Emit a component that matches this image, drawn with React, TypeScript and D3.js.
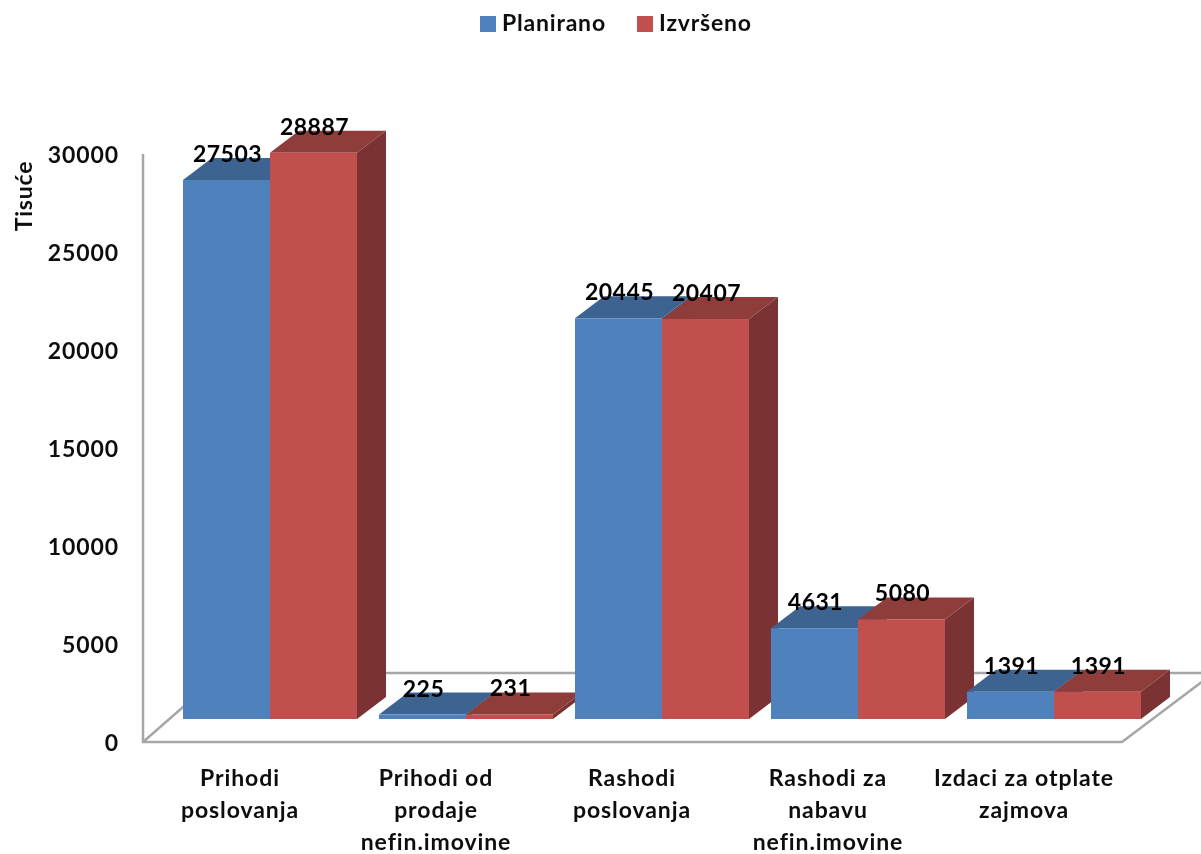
import React from "react";
import * as d3 from "d3";

const categories = [
  ["Prihodi", "poslovanja"],
  ["Prihodi od", "prodaje", "nefin.imovine"],
  ["Rashodi", "poslovanja"],
  ["Rashodi za", "nabavu", "nefin.imovine"],
  ["Izdaci za otplate", "zajmova"],
];
const planirano = [27503, 225, 20445, 4631, 1391];
const izvrseno = [28887, 231, 20407, 5080, 1391];
const seriesNames = ["Planirano", "Izvršeno"];
const yTicks = [0, 5000, 10000, 15000, 20000, 25000, 30000];

const COLORS = [
  { front: "#4f81bd", top: "#3e6390", side: "#345478" },
  { front: "#c0504d", top: "#8f3c3a", side: "#7a3230" },
];
const FONT = "Lato, Carlito, 'Open Sans', sans-serif";
const DX = 29;
const DY = 22;
const BASE_OFFSET = 23;

export default function App() {
  const width = 1201;
  const height = 854;
  const y = d3.scaleLinear().domain([0, 30000]).range([742, 154]);
  const x0 = d3.scaleBand<number>().domain(d3.range(5)).range([172, 1152]).paddingInner(22 / 196).paddingOuter(11 / 196);
  const x1 = d3.scaleBand<number>().domain([0, 1]).range([0, x0.bandwidth()]);
  const series = [planirano, izvrseno];

  return (
    <svg
      width={width}
      height={height}
      viewBox={`0 0 ${width} ${height}`}
      style={{ position: "absolute", left: 0, top: 0, background: "#fff" }}
      fontFamily={FONT}
    >
      <defs>
        <filter id="soft" x="-5%" y="-5%" width="110%" height="110%">
          <feGaussianBlur stdDeviation="0.55" />
        </filter>
      </defs>
      <g filter="url(#soft)">
        {/* floor and walls */}
        <g fill="none" stroke="#a6a6a6" strokeWidth={2.5}>
          <path d={`M143,${y(30000)}V${y(0)}H1122L1203,681`} />
          <path d={`M143,${y(0)}L222,673H1203`} />
        </g>

        {/* legend */}
        {seriesNames.map((name, i) => {
          const lx = [480, 637][i];
          return (
            <g key={name}>
              <rect x={lx} y={16} width={16} height={16} fill={COLORS[i].front} />
              <text x={lx + 22} y={31} fontSize={23} letterSpacing={0.8} fontWeight={700} fill="#111">
                {name}
              </text>
            </g>
          );
        })}

        {/* y axis */}
        <text transform="translate(32,196) rotate(-90)" textAnchor="middle" fontSize={23} letterSpacing={0.8} fontWeight={700} fill="#111">
          Tisuće
        </text>
        {yTicks.map((t) => (
          <text key={t} x={119} y={y(t)} dy={9} textAnchor="end" fontSize={23} letterSpacing={0.9} fontWeight={700} fill="#111">
            {t}
          </text>
        ))}

        {/* bars */}
        {categories.map((_, c) =>
          [0, 1].map((s) => {
            const left = x0(c)! + x1(s)!;
            const w = x1.bandwidth();
            const baseY = y(0) - BASE_OFFSET;
            const topY = y(series[s][c]) - BASE_OFFSET;
            const right = left + w;
            return (
              <g key={`${c}-${s}`}>
                <polygon
                  points={`${right},${topY} ${right + DX},${topY - DY} ${right + DX},${baseY - DY} ${right},${baseY}`}
                  fill={COLORS[s].side}
                />
                <polygon
                  points={`${left},${topY} ${left + DX},${topY - DY} ${right + DX},${topY - DY} ${right},${topY}`}
                  fill={COLORS[s].top}
                />
                <rect x={left} y={topY} width={w} height={baseY - topY} fill={COLORS[s].front} />
              </g>
            );
          })
        )}

        {/* data labels */}
        {categories.map((_, c) =>
          [0, 1].map((s) => {
            const left = x0(c)! + x1(s)!;
            const topY = y(series[s][c]) - BASE_OFFSET;
            return (
              <text
                key={`l${c}-${s}`}
                x={left + x1.bandwidth() / 2 + 1}
                y={topY - 18}
                textAnchor="middle"
                fontSize={23}
                letterSpacing={0.5}
                fontWeight={700}
                fill="#000"
              >
                {series[s][c]}
              </text>
            );
          })
        )}

        {/* category labels */}
        {categories.map((lines, c) => (
          <text key={c} textAnchor="middle" fontSize={23} letterSpacing={0.9} fontWeight={700} fill="#111">
            {lines.map((ln, i) => (
              <tspan key={i} x={x0(c)! + x0.bandwidth() / 2 - 30} y={786 + i * 32}>
                {ln}
              </tspan>
            ))}
          </text>
        ))}
      </g>
    </svg>
  );
}
